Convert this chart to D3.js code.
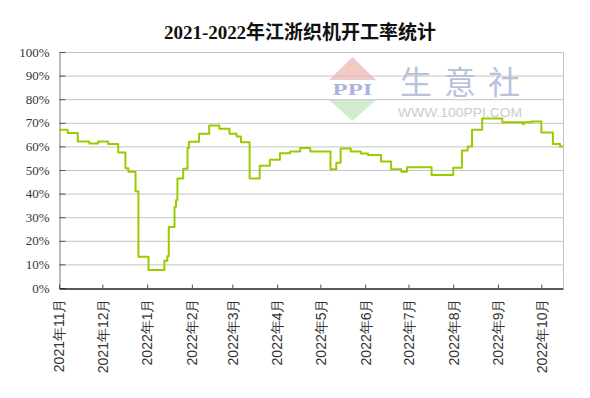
<!DOCTYPE html>
<html>
<head>
<meta charset="utf-8">
<script src="https://cdn.jsdelivr.net/npm/d3@7/dist/d3.min.js"></script>
<style>
  html, body { margin: 0; padding: 0; background: #fff; }
  svg { display: block; }
</style>
</head>
<body>
<svg id="chart" width="590" height="398"></svg>
<script>
// ---- data ----
const title = "2021-2022年江浙织机开工率统计";
const dates = [
  "2021-11-01","2021-11-07","2021-11-14","2021-11-22","2021-11-28","2021-12-05",
  "2021-12-12","2021-12-17","2021-12-19","2021-12-24","2021-12-26","2022-01-02",
  "2022-01-13","2022-01-15","2022-01-16","2022-01-20","2022-01-21","2022-01-22",
  "2022-01-26","2022-01-29","2022-01-30","2022-02-06","2022-02-13","2022-02-20",
  "2022-02-27","2022-03-04","2022-03-07","2022-03-13","2022-03-20","2022-03-27",
  "2022-04-03","2022-04-10","2022-04-17","2022-04-24","2022-05-08","2022-05-12",
  "2022-05-15","2022-05-22","2022-05-29","2022-06-03","2022-06-12","2022-06-19",
  "2022-06-26","2022-06-30","2022-07-17","2022-08-01","2022-08-07","2022-08-11",
  "2022-08-14","2022-08-21","2022-09-04","2022-09-18","2022-09-19","2022-09-24",
  "2022-10-01","2022-10-09","2022-10-14","2022-10-16"
];
const rates = [
  67.1, 65.7, 62.1, 61.2, 62.1, 61.0,
  57.4, 50.7, 49.3, 41.0, 13.2, 7.6,
  11.5, 13.5, 25.8, 34.3, 37.2, 46.4,
  50.5, 59.3, 62.0, 65.4, 68.9, 67.5,
  65.4, 64.2, 61.8, 46.4, 51.8, 54.3,
  57.1, 57.8, 59.3, 57.8, 50.3, 53.1,
  59.1, 57.8, 57.0, 56.4, 53.6, 50.3,
  49.3, 51.2, 47.9, 51.0, 58.3, 60.0,
  67.1, 71.8, 70.2, 69.5, 70.2, 70.6,
  65.9, 61.0, 60.0, 60.0
];
const yTicks = [0,10,20,30,40,50,60,70,80,90,100];
const monthTicks = ["2021-11-01","2021-12-01","2022-01-01","2022-02-01","2022-03-01",
  "2022-04-01","2022-05-01","2022-06-01","2022-07-01","2022-08-01","2022-09-01","2022-10-01"];
const domainStart = "2021-11-01", domainEnd = "2022-10-16";

// ---- layout ----
const W = 590, H = 398;
const m = {left: 59, right: 27, top: 52, bottom: 110};
const iw = W - m.left - m.right, ih = H - m.top - m.bottom;
const parse = d3.timeParse("%Y-%m-%d");
const svg = d3.select("#chart");

const x = d3.scaleTime().domain([parse(domainStart), parse(domainEnd)]).range([0, iw]);
const y = d3.scaleLinear().domain([0, 100]).range([ih, 0]);

// title
svg.append("text")
  .attr("x", W / 2 + 5).attr("y", 39)
  .attr("text-anchor", "middle")
  .attr("font-family", "'Liberation Serif','Noto Sans CJK SC',serif")
  .attr("font-weight", "bold")
  .attr("font-size", 19)
  .attr("fill", "#111")
  .attr("textLength", 272).attr("lengthAdjust", "spacing")
  .text(title);

const g = svg.append("g").attr("transform", `translate(${m.left},${m.top})`);

// watermark
const wm = g.append("g").attr("transform", `translate(${-m.left},${-m.top})`);
wm.append("polygon").attr("points", "329,80 376,80 352.5,57").attr("fill", "#f4c8c4");
wm.append("polygon").attr("points", "329,100 376,100 352.5,121").attr("fill", "#cfeccf");
wm.append("text").attr("x", 352.5).attr("y", 95).attr("text-anchor", "middle")
  .attr("font-family", "'Liberation Serif',serif").attr("font-weight", "bold")
  .attr("font-size", 17).attr("fill", "#aab6da").attr("textLength", 40).attr("lengthAdjust", "spacingAndGlyphs").text("PPI");
wm.append("text").attr("x", 400).attr("y", 94)
  .attr("font-family", "'Noto Sans CJK SC',sans-serif")
  .attr("font-size", 32).attr("fill", "#b8c2de")
  .attr("textLength", 120).attr("lengthAdjust", "spacing").text("生意社");
wm.append("text").attr("x", 398).attr("y", 117)
  .attr("font-family", "'Liberation Sans',Arial,sans-serif")
  .attr("font-size", 12.5).attr("fill", "#cccccc")
  .attr("textLength", 124).attr("lengthAdjust", "spacingAndGlyphs").text("WWW.100PPI.COM");

// gridlines
g.append("g").selectAll("line").data(yTicks.filter(d => d > 0)).join("line")
  .attr("x1", 0).attr("x2", iw)
  .attr("y1", d => y(d) + 0.5).attr("y2", d => y(d) + 0.5)
  .attr("stroke", "#c4c4c4").attr("stroke-width", 1);

// right border
g.append("line").attr("x1", iw + 0.5).attr("x2", iw + 0.5).attr("y1", 0).attr("y2", ih)
  .attr("stroke", "#c4c4c4");

// y axis
const yAxis = d3.axisLeft(y).tickValues(yTicks).tickFormat(d => d + "%").tickSizeInner(-6).tickSizeOuter(0).tickPadding(10);
const ya = g.append("g").attr("transform", "translate(0.5,0)").call(yAxis);
ya.select(".domain").attr("stroke", "#777");
ya.selectAll(".tick line").attr("stroke", "#555");
ya.selectAll(".tick text").attr("font-family", "'Liberation Serif','DejaVu Serif',serif")
  .attr("font-size", 13).attr("fill", "#333");

// x axis
const xAxis = d3.axisBottom(x).tickValues(monthTicks.map(parse))
  .tickFormat(d3.timeFormat("%Y年%-m月")).tickSizeInner(-4).tickSizeOuter(0).tickPadding(8);
const xa = g.append("g").attr("transform", `translate(0,${ih + 0.5})`).call(xAxis);
xa.select(".domain").attr("stroke", "#222").attr("stroke-width", 1.3);
xa.selectAll(".tick line").attr("stroke", "#555");
xa.selectAll(".tick text")
  .attr("font-family", "'Liberation Sans',Arial,sans-serif")
  .attr("font-size", 14).attr("fill", "#333")
  .attr("text-anchor", "end")
  .attr("transform", "rotate(-90)")
  .attr("x", -10).attr("y", 0).attr("dy", "0.35em");

// line
const pts = dates.map((d, i) => ({date: parse(d), v: rates[i]}));
const line = d3.line().x(d => x(d.date)).y(d => y(d.v)).curve(d3.curveStepAfter);
g.append("path").datum(pts)
  .attr("d", line)
  .attr("fill", "none")
  .attr("stroke", "#99cc00")
  .attr("stroke-width", 2)
  .attr("stroke-linejoin", "round");
</script>
</body>
</html>
